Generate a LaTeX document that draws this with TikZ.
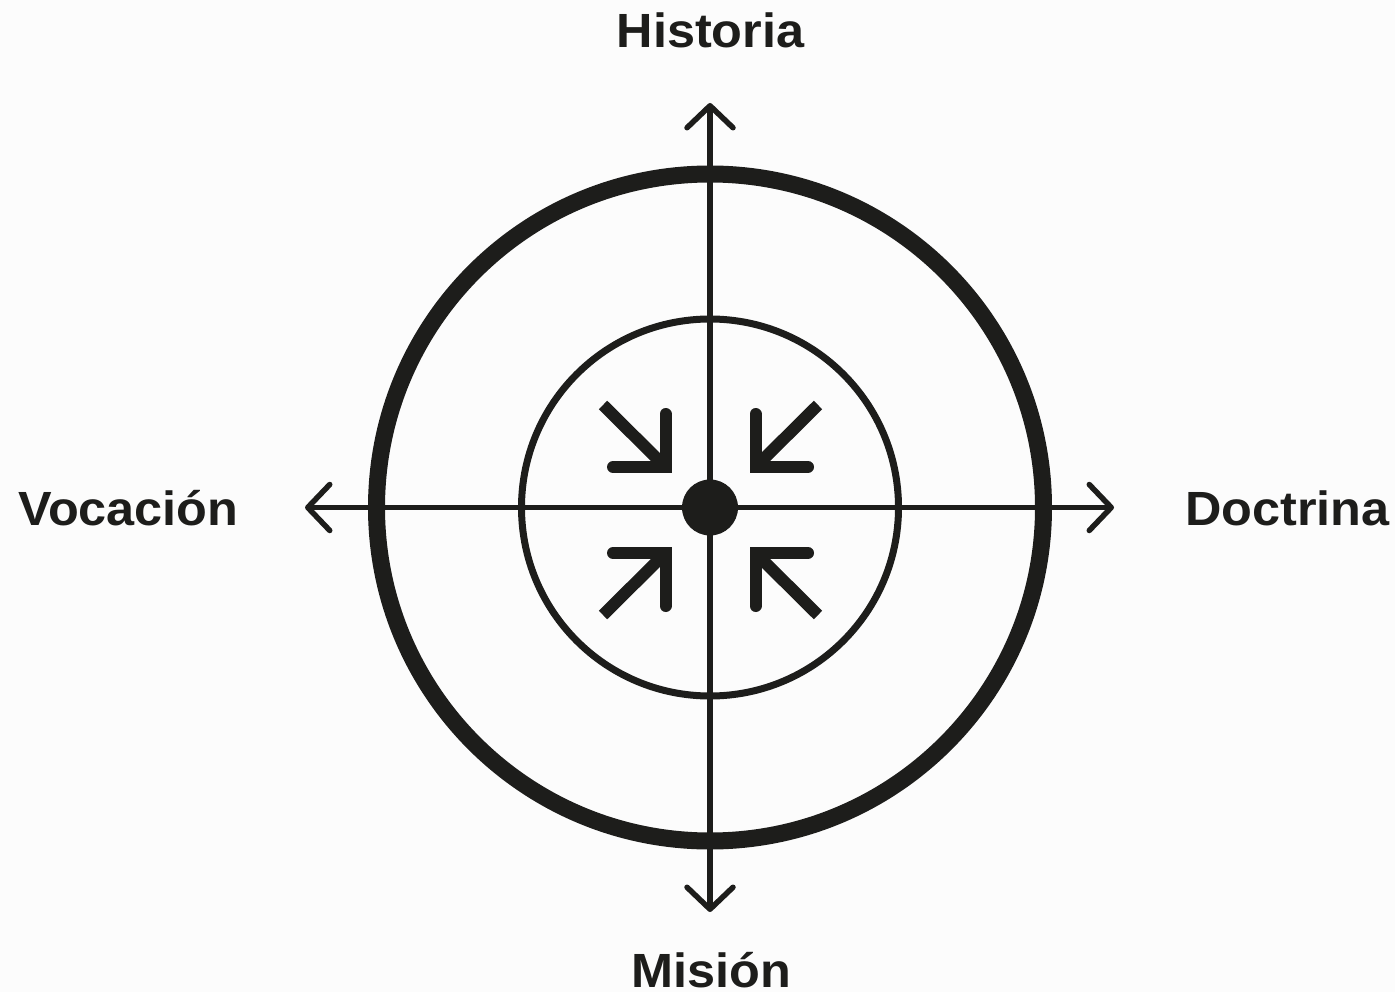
\documentclass[tikz,border=0pt]{standalone}
\usepackage{fontspec}
\setmainfont{Liberation Sans}[FakeStretch=1.05]
\usetikzlibrary{arrows.meta}
\definecolor{ink}{RGB}{29,29,27}
\definecolor{bg}{RGB}{252,252,252}
\tikzset{
  axis/.style={draw=ink, line width=5.5pt, -{Straight Barb[length=22pt,width=46pt,round]}},
  outerring/.style={draw=ink, line width=17pt},
  innerring/.style={draw=ink, line width=7pt},
  leg/.style={draw=ink, line width=12pt, line cap=round, line join=miter},
  shaft/.style={draw=ink, line width=12pt, line cap=butt},
  lbl/.style={text=ink, font=\bfseries\fontsize{48}{48}\selectfont, inner sep=0pt}
}
\begin{document}
\begin{tikzpicture}[x=1pt,y=-1pt]
\fill[bg] (0,0) rectangle (1395,992);
\useasboundingbox (0,0) rectangle (1395,992);
\coordinate (O) at (710,507.5);
% rings
\draw[outerring] (O) circle[radius=333.5];
\draw[innerring] (O) circle[radius=188.5];
% axes
\coordinate (N) at (710,103);
\coordinate (S) at (710,912);
\coordinate (W) at (305,507.5);
\coordinate (E) at (1114,507.5);
\draw[axis] (O) -- (N);
\draw[axis] (O) -- (S);
\draw[axis] (O) -- (W);
\draw[axis] (O) -- (E);
% centre dot
\node[circle, fill=ink, minimum size=56pt, inner sep=0pt] (c) at (O) {};
% inward arrows
\coordinate (tl) at (665.5,467);
\coordinate (tr) at (755.5,467);
\coordinate (bl) at (665.5,553);
\coordinate (br) at (755.5,553);
\coordinate (tlA) at (613,467);   \coordinate (tlB) at (665.5,414); \coordinate (tlD) at (603,405);
\coordinate (trA) at (808,467);   \coordinate (trB) at (755.5,414); \coordinate (trD) at (818,405);
\coordinate (blA) at (613,553);   \coordinate (blB) at (665.5,606); \coordinate (blD) at (603,615);
\coordinate (brA) at (808,553);   \coordinate (brB) at (755.5,606); \coordinate (brD) at (818,615);
\draw[shaft] (tlD) -- (tl);
\draw[leg] (tlA) -- (tl) -- (tlB);
\draw[shaft] (trD) -- (tr);
\draw[leg] (trA) -- (tr) -- (trB);
\draw[shaft] (blD) -- (bl);
\draw[leg] (blA) -- (bl) -- (blB);
\draw[shaft] (brD) -- (br);
\draw[leg] (brA) -- (br) -- (brB);
% labels
\node[lbl, anchor=base] (historia) at (710.5,48) {Historia};
\node[lbl, anchor=base] (mision) at (711,987) {Misión};
\node[lbl, anchor=base west] (vocacion) at (18,525) {Vocación};
\node[lbl, anchor=base east] (doctrina) at (1390,525) {Doctrina};
\end{tikzpicture}
\end{document}
